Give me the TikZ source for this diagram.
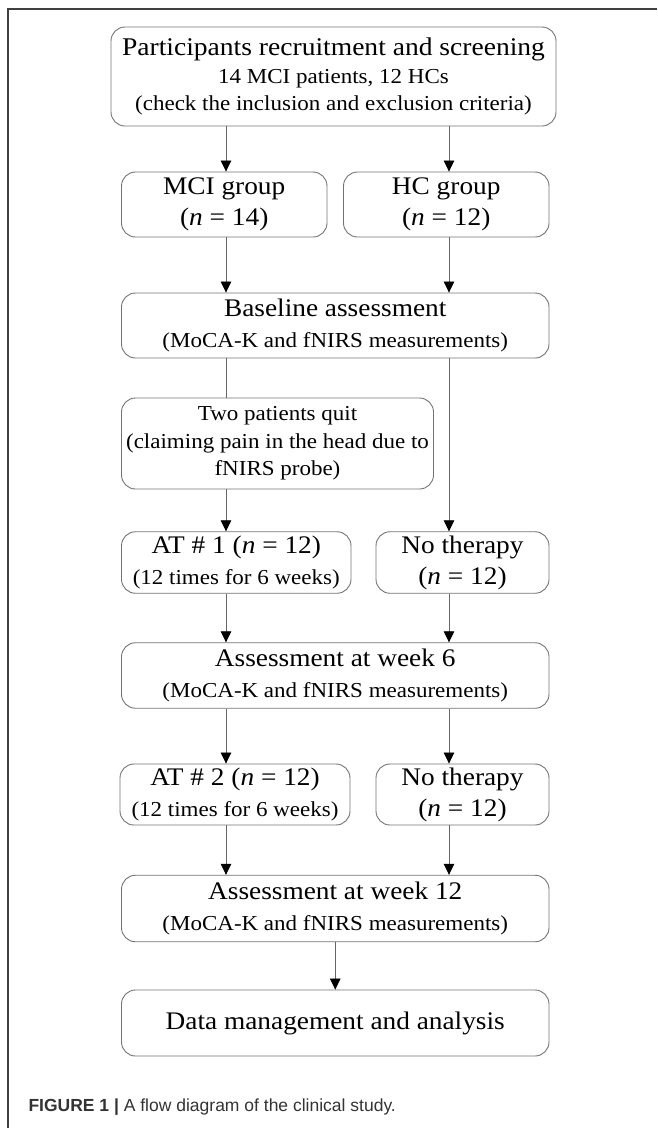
\documentclass[tikz,border=0pt]{standalone}
\usepackage{fontspec}
\setmainfont[FakeStretch=1.08]{Liberation Serif}
\newfontfamily\capfont{Liberation Sans}
\usetikzlibrary{arrows.meta}

\begin{document}
\begin{tikzpicture}[x=1pt, y=-1pt,
        every text node part/.style={align=center},
        box/.style={draw=black!55, rounded corners=14pt, line width=0.9pt, inner sep=0pt},
        big/.style={font=\fontsize{25.3}{31}\selectfont},
        small/.style={font=\fontsize{21.3}{27.5}\selectfont},
        arr/.style={draw=black!60, line width=0.8pt, -{Triangle[black, width=10.5pt, length=11pt]}},
        link/.style={draw=black!60, line width=0.8pt}]
            \useasboundingbox (0,0) rectangle (657,1128);
            \draw[line width=1.2pt, black!75] (657,9) -- (8,9) -- (8,1128);

            \coordinate (L) at (226,0);
            \coordinate (R) at (449,0);

            \node[box, small, minimum width=445pt, minimum height=99pt] (recruit) at (333.5,76.5)
                {{\fontsize{25.5}{31}\selectfont Participants recruitment and screening}\\14 MCI patients, 12 HCs\\(check the inclusion and exclusion criteria)};
            \node[box, big, minimum width=205.5pt, minimum height=65pt] (mci) at (224.25,204.5) {MCI group\\(\textit{n} = 14)};
            \node[box, big, minimum width=205.5pt, minimum height=65pt] (hc) at (446.25,204.5) {HC group\\(\textit{n} = 12)};
            \node[box, big, minimum width=427.5pt, minimum height=65pt] (base) at (335.25,325.5)
                {Baseline assessment\\{\fontsize{21.3}{27.5}\selectfont (MoCA-K and fNIRS measurements)}};
            \node[box, small, minimum width=312pt, minimum height=91pt] (quit) at (277.5,443.5)
                {Two patients quit\\(claiming pain in the head due to\\fNIRS probe)};
            \node[box, big, minimum width=229.5pt, minimum height=61.5pt] (at1) at (236.25,562.5)
                {AT \# 1 (\textit{n} = 12)\\{\fontsize{21.3}{27.5}\selectfont (12 times for 6 weeks)}};
            \node[box, big, minimum width=173pt, minimum height=61.5pt] (none1) at (462.5,562.5) {No therapy\\(\textit{n} = 12)};
            \node[box, big, minimum width=427.5pt, minimum height=65.5pt] (week6) at (335.25,675.5)
                {Assessment at week 6\\{\fontsize{21.3}{27.5}\selectfont (MoCA-K and fNIRS measurements)}};
            \node[box, big, minimum width=230pt, minimum height=61pt] (at2) at (235,794.5)
                {AT \# 2 (\textit{n} = 12)\\{\fontsize{21.3}{27.5}\selectfont (12 times for 6 weeks)}};
            \node[box, big, minimum width=173pt, minimum height=61pt] (none2) at (462.5,794.5) {No therapy\\(\textit{n} = 12)};
            \node[box, big, minimum width=427.5pt, minimum height=66.5pt] (week12) at (335.25,908.5)
                {Assessment at week 12\\{\fontsize{21.3}{27.5}\selectfont (MoCA-K and fNIRS measurements)}};
            \node[box, big, minimum width=427.5pt, minimum height=66pt] (data) at (335.25,1023) {Data management and analysis};

            \draw[arr] (recruit.south -| L) -- (mci.north -| L);
            \draw[arr] (recruit.south -| R) -- (hc.north -| R);
            \draw[arr] (mci.south -| L) -- (base.north -| L);
            \draw[arr] (hc.south -| R) -- (base.north -| R);
            \draw[link] (base.south -| L) -- (quit.north -| L);
            \draw[arr] (base.south -| R) -- (none1.north -| R);
            \draw[arr] (quit.south -| L) -- (at1.north -| L);
            \draw[arr] (at1.south -| L) -- (week6.north -| L);
            \draw[arr] (none1.south -| R) -- (week6.north -| R);
            \draw[arr] (week6.south -| L) -- (at2.north -| L);
            \draw[arr] (week6.south -| R) -- (none2.north -| R);
            \draw[arr] (at2.south -| L) -- (week12.north -| L);
            \draw[arr] (none2.south -| R) -- (week12.north -| R);
            \draw[arr] (week12.south) -- (data.north);

            \node[anchor=base west, font=\capfont\fontsize{17.5}{18}\selectfont, text=black!80] (caption) at (25,1111)
                {\textbf{FIGURE 1 |} A flow diagram of the clinical study.};
        \end{tikzpicture}
\end{document}
